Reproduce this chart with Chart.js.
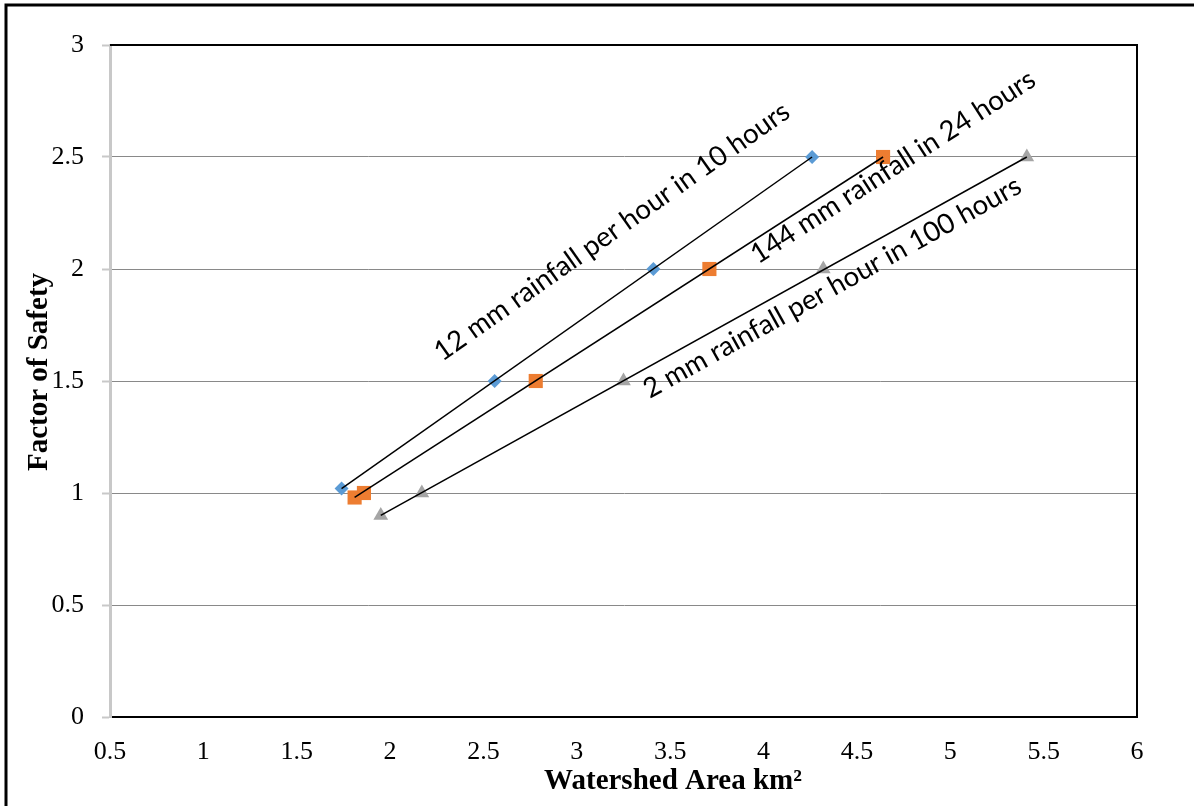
<!DOCTYPE html>
<html>
<head>
<meta charset="utf-8">
<script src="https://cdn.jsdelivr.net/npm/chart.js@4/dist/chart.umd.min.js"></script>
<style>
  body { margin: 0; background: white; }
  canvas { display: block; }
</style>
</head>
<body>
<canvas id="myChart" width="1194" height="806"></canvas>
<script>
// Watershed area (km2) vs factor of safety, three rainfall cases
let blueX = [1.74, 2.56, 3.41, 4.26]
let blueY = [1.02, 1.5, 2, 2.5]
let orangeX = [1.81, 1.86, 2.78, 3.71, 4.64]
let orangeY = [0.98, 1.0, 1.5, 2, 2.5]
let grayX = [1.95, 2.17, 3.25, 4.32, 5.41]
let grayY = [0.9, 1.0, 1.5, 2, 2.5]

let seriesNames = ['12 mm/h 10 h', '144 mm 24 h', '2 mm/h 100 h']
let labelTexts = ['12 mm rainfall per hour in 10 hours', '144 mm rainfall in 24 hours', '2 mm rainfall per hour in 100 hours']
let labelX = [2.28, 3.97, 3.39]
let labelY = [1.585, 2.02, 1.42]

let xTitle = 'Watershed Area km\u00B2'
let yTitle = 'Factor of Safety'

let cor1 = '#5B9BD5'
let cor2 = '#ED7D31'
let cor3 = '#A5A5A5'

function pontos(xs, ys) {
    let arr = []
    for (let i = 0; i < xs.length; i++) {
        arr.push({ x: xs[i], y: ys[i] })
    }
    return arr
}

// straight line from first to last point of a series
function tendencia(xs, ys) {
    let n = xs.length - 1
    return [{ x: xs[0], y: ys[0] }, { x: xs[n], y: ys[n] }]
}

let linhas = [tendencia(blueX, blueY), tendencia(orangeX, orangeY), tendencia(grayX, grayY)]

function rotulo(v) {
    return String(Math.round(v * 10) / 10)
}

const extras = {
    id: 'extras',
    afterDraw(chart) {
        const c = chart.ctx
        const a = chart.chartArea
        const sx = chart.scales.x
        const sy = chart.scales.y
        c.save()
        // plot frame top + right
        c.strokeStyle = '#000'
        c.lineWidth = 2
        c.beginPath()
        c.moveTo(a.left, a.top)
        c.lineTo(a.right, a.top)
        c.lineTo(a.right, a.bottom)
        c.stroke()
        // outer frame
        c.lineWidth = 3
        c.beginPath()
        c.moveTo(6, 820)
        c.lineTo(6, 5)
        c.lineTo(1200, 5)
        c.stroke()

        // rotated labels along trend lines
        c.fillStyle = '#000'
        c.font = '27.6px Lato'
        c.textAlign = 'left'
        c.textBaseline = 'alphabetic'
        for (let i = 0; i < labelTexts.length; i++) {
            let p0 = linhas[i][0], p1 = linhas[i][1]
            let ang = Math.atan2(sy.getPixelForValue(p1.y) - sy.getPixelForValue(p0.y),
                                 sx.getPixelForValue(p1.x) - sx.getPixelForValue(p0.x))
            c.save()
            c.translate(sx.getPixelForValue(labelX[i]), sy.getPixelForValue(labelY[i]))
            c.rotate(ang)
            c.fillText(labelTexts[i], 0, 0)
            c.restore()
        }

        // axis titles
        c.font = 'bold 29px "Liberation Serif"'
        c.textAlign = 'center'
        c.textBaseline = 'middle'
        c.fillText(xTitle, 673, 782)
        c.save()
        c.translate(40, 372)
        c.rotate(-Math.PI / 2)
        c.fillText(yTitle, 0, 0)
        c.restore()
        c.restore()
    }
}

const ctx = document.getElementById('myChart').getContext('2d')
let myChart = new Chart(ctx, {
    type: 'scatter',
    data: {
        datasets: [{
            label: 'trend1',
            data: linhas[0],
            showLine: true,
            borderColor: '#000',
            borderWidth: 1.5,
            pointRadius: 0,
            order: 0
        }, {
            label: 'trend2',
            data: linhas[1],
            showLine: true,
            borderColor: '#000',
            borderWidth: 1.5,
            pointRadius: 0,
            order: 0
        }, {
            label: 'trend3',
            data: linhas[2],
            showLine: true,
            borderColor: '#000',
            borderWidth: 1.5,
            pointRadius: 0,
            order: 0
        }, {
            label: seriesNames[0],
            data: pontos(blueX, blueY),
            pointStyle: 'rectRot',
            pointRadius: 7,
            backgroundColor: cor1,
            borderWidth: 0,
            order: 1
        }, {
            label: seriesNames[1],
            data: pontos(orangeX, orangeY),
            pointStyle: 'rect',
            pointRadius: 10,
            backgroundColor: cor2,
            borderWidth: 0,
            order: 1
        }, {
            label: seriesNames[2],
            data: pontos(grayX, grayY),
            pointStyle: 'triangle',
            pointRadius: 8.5,
            backgroundColor: cor3,
            borderWidth: 0,
            order: 1
        }]
    },
    options: {
        responsive: false,
        animation: false,
        layout: { padding: { top: 45, right: 57, left: 0, bottom: 0 } },
        plugins: {
            legend: { display: false },
            tooltip: { enabled: false }
        },
        scales: {
            x: {
                type: 'linear',
                min: 0.5,
                max: 6,
                afterFit: function(s) { s.height = 89 },
                ticks: {
                    stepSize: 0.5,
                    color: '#000',
                    padding: 20,
                    callback: rotulo,
                    font: { family: '"Liberation Serif"', size: 26 }
                },
                grid: { display: false, drawTicks: false },
                border: { display: true, color: '#000', width: 2 }
            },
            y: {
                min: 0,
                max: 3,
                afterFit: function(s) { s.width = 110 },
                ticks: {
                    stepSize: 0.5,
                    color: '#000',
                    padding: 18,
                    callback: rotulo,
                    font: { family: '"Liberation Serif"', size: 26 }
                },
                grid: { color: '#898989', lineWidth: 1, tickColor: '#c8c8c8', tickLength: 8, tickWidth: 2 },
                border: { display: true, color: '#c8c8c8', width: 3 }
            }
        }
    },
    plugins: [extras]
})
</script>
</body>
</html>
